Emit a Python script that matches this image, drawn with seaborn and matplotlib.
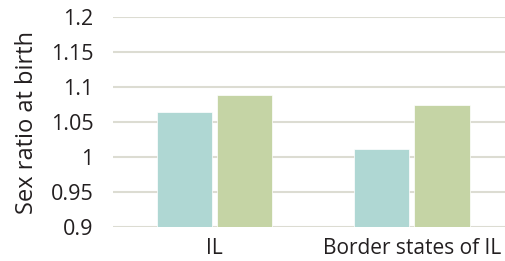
import matplotlib
matplotlib.use("Agg")
import matplotlib.pyplot as plt
import seaborn as sns
import pandas as pd

categories = ["IL", "Border states of IL"]
series_names = ["Series 1", "Series 2"]
series1 = [1.064, 1.012]
series2 = [1.089, 1.075]
yticks = [0.9, 0.95, 1.0, 1.05, 1.1, 1.15, 1.2]
ytick_labels = ["0.9", "0.95", "1", "1.05", "1.1", "1.15", "1.2"]
colors = ["#afd7d3", "#c5d4a5"]

df = pd.DataFrame({
    "cat": categories * 2,
    "series": [series_names[0]] * 2 + [series_names[1]] * 2,
    "value": series1 + series2,
})

sns.set_style("white")
plt.rcParams["font.family"] = ["Open Sans", "DejaVu Sans"]

fig = plt.figure(figsize=(5.05, 2.61), dpi=100)
ax = fig.add_axes([0.2244, 0.1314, 0.7756, 0.8023])

sns.barplot(data=df, x="cat", y="value", hue="series", palette=colors,
            width=0.611, gap=0.083, legend=False, ax=ax, zorder=3,
            edgecolor="white", linewidth=0.5, saturation=1)

ax.set_ylim(0.9, 1.2)
ax.set_xlim(-0.512, 1.472)
ax.set_yticks(yticks)
ax.set_yticklabels(ytick_labels)
ax.grid(axis="y", color="#dcdcd2", linewidth=1.5, zorder=0)
ax.grid(axis="x", visible=False)
ax.set_axisbelow(True)
for s in ax.spines.values():
    s.set_visible(False)
ax.tick_params(axis="y", length=0, pad=14.5, labelsize=15.5, colors="#231f20")
ax.tick_params(axis="x", length=0, pad=8, labelsize=15, colors="#231f20")
ax.set_xlabel("")
ax.set_ylabel("Sex ratio at birth", fontsize=17, color="#231f20", labelpad=8)

fig.savefig("out.png", dpi=100)
